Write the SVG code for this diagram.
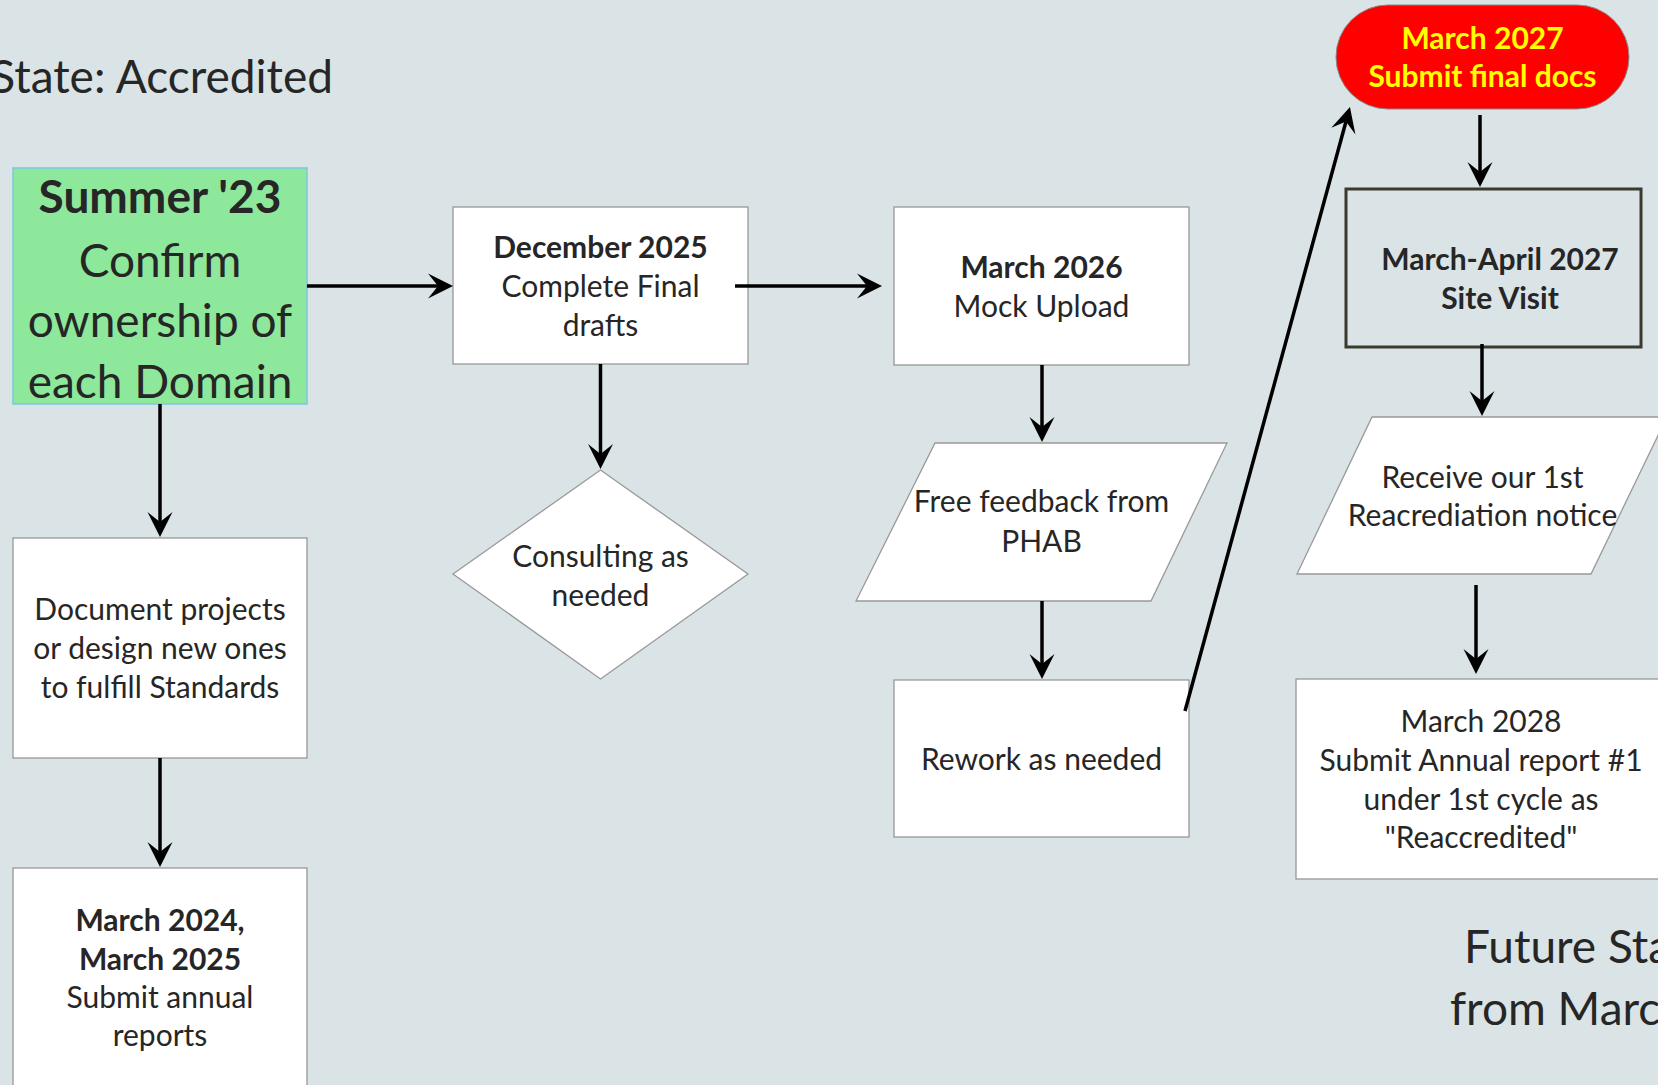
<svg xmlns="http://www.w3.org/2000/svg" width="1658" height="1085" viewBox="0 0 1658 1085">
<style>
  .t { font-family: Lato, "Liberation Sans", sans-serif; fill: #262626; text-anchor: middle; }
  .b { font-weight: bold; }
  .box { fill: #ffffff; stroke: #999999; stroke-width: 1.3; }
  .conn { fill: none; stroke: #000000; stroke-width: 3.5; marker-end: url(#ah); }
  .big { font-size: 46px; }
  .n { font-size: 30px; }
</style>
<defs>
  <marker id="ah" markerUnits="userSpaceOnUse" markerWidth="30" markerHeight="30" viewBox="-12 -15 30 30" refX="0" refY="0" orient="auto" overflow="visible">
    <path d="M15,0 L-10,-12.5 L0,0 L-10,12.5 Z" fill="#000000"/>
  </marker>
</defs>
<rect x="0" y="0" width="1658" height="1085" fill="#DAE3E5"/>

<text class="t big" x="333" y="93" style="text-anchor:end">State: Accredited</text>
<text class="t big" x="1464" y="963" style="text-anchor:start">Future Sta</text>
<text class="t big" x="1450" y="1025" style="text-anchor:start">from Marc</text>

<g id="summer23">
  <rect x="13" y="168" width="294" height="236" fill="#8DE89C" stroke="#7EC8DC" stroke-width="1.5"/>
  <text class="t big b" x="160" y="213">Summer '23</text>
  <text class="t big" x="160" y="277">Confirm</text>
  <text class="t big" x="160" y="337">ownership of</text>
  <text class="t big" x="160" y="398">each Domain</text>
</g>

<g id="document">
  <rect class="box" x="13" y="538" width="294" height="220"/>
  <text class="t n" x="160" y="620">Document projects</text>
  <text class="t n" x="160" y="659">or design new ones</text>
  <text class="t n" x="160" y="698">to fulfill Standards</text>
</g>

<g id="annual">
  <rect class="box" x="13" y="868" width="294" height="230"/>
  <text class="t n b" x="160" y="931">March 2024,</text>
  <text class="t n b" x="160" y="970">March 2025</text>
  <text class="t n" x="160" y="1008">Submit annual</text>
  <text class="t n" x="160" y="1046">reports</text>
</g>

<g id="dec2025">
  <rect class="box" x="453" y="207" width="295" height="157"/>
  <text class="t n b" x="600.5" y="258">December 2025</text>
  <text class="t n" x="600.5" y="297">Complete Final</text>
  <text class="t n" x="600.5" y="336">drafts</text>
</g>

<g id="consulting">
  <polygon class="box" points="600.5,470 748,574 600.5,679 453,574"/>
  <text class="t n" x="600.5" y="567">Consulting as</text>
  <text class="t n" x="600.5" y="606">needed</text>
</g>

<g id="mar2026">
  <rect class="box" x="894" y="207" width="295" height="158"/>
  <text class="t n b" x="1041.5" y="278">March 2026</text>
  <text class="t n" x="1041.5" y="317">Mock Upload</text>
</g>

<g id="feedback">
  <polygon class="box" points="935,443 1227,443 1151,601 856,601"/>
  <text class="t n" x="1041.5" y="512">Free feedback from</text>
  <text class="t n" x="1041.5" y="552">PHAB</text>
</g>

<g id="rework">
  <rect class="box" x="894" y="680" width="295" height="157"/>
  <text class="t n" x="1041.5" y="770">Rework as needed</text>
</g>

<g id="mar2027">
  <rect x="1336" y="5" width="293" height="104" rx="52" ry="52" fill="#FF0000" stroke="#888888" stroke-width="1"/>
  <text class="t n b" x="1482.5" y="49" style="fill:#FFFF00">March 2027</text>
  <text class="t n b" x="1482.5" y="87" style="fill:#FFFF00">Submit final docs</text>
</g>

<g id="sitevisit">
  <rect x="1346" y="189" width="295" height="158" fill="none" stroke="#3A3A2E" stroke-width="3"/>
  <text class="t n b" x="1500" y="270">March-April 2027</text>
  <text class="t n b" x="1500" y="309">Site Visit</text>
</g>

<g id="notice">
  <polygon class="box" points="1372,417 1667,417 1591,574 1297,574"/>
  <text class="t n" x="1482.5" y="488">Receive our 1st</text>
  <text class="t n" x="1482.5" y="526">Reacrediation notice</text>
</g>

<g id="mar2028">
  <rect class="box" x="1296" y="679" width="380" height="200"/>
  <text class="t n" x="1481" y="732">March 2028</text>
  <text class="t n" x="1481" y="771">Submit Annual report #1</text>
  <text class="t n" x="1481" y="810">under 1st cycle as</text>
  <text class="t n" x="1481" y="848">"Reaccredited"</text>
</g>

<g id="connectors">
  <path class="conn" d="M307,286 L438,286"/>
  <path class="conn" d="M160,404 L160,522"/>
  <path class="conn" d="M160,758 L160,852"/>
  <path class="conn" d="M600.5,364 L600.5,454"/>
  <path class="conn" d="M735,286 L867,286"/>
  <path class="conn" d="M1042,365 L1042,427"/>
  <path class="conn" d="M1042,601 L1042,664"/>
  <path class="conn" d="M1185,711 L1346,121.5"/>
  <path class="conn" d="M1480,115 L1480,172"/>
  <path class="conn" d="M1482,344 L1482,401"/>
  <path class="conn" d="M1476,585 L1476,659"/>
</g>
</svg>
